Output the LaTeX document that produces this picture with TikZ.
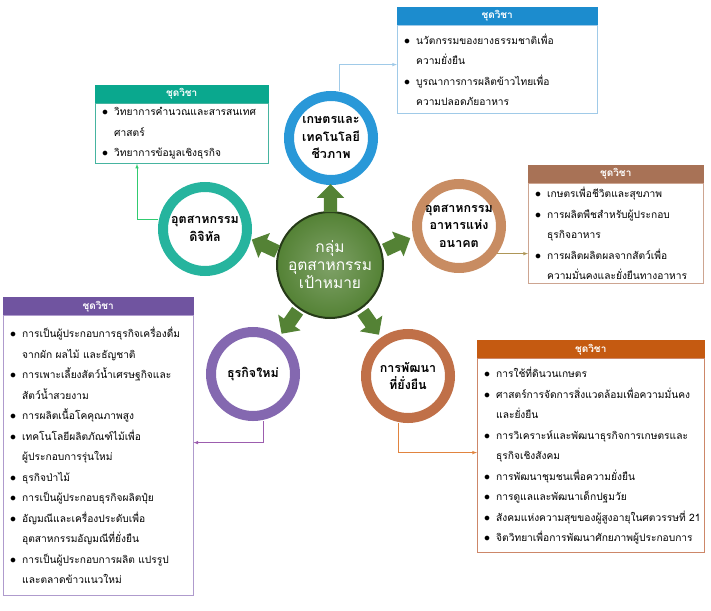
\documentclass[tikz,border=0pt]{standalone}
\usepackage{fontspec}
\usepackage{tikz}
\usetikzlibrary{shapes,arrows,positioning,calc}
\newfontfamily\thaifont[Script=Thai]{Loma}
\definecolor{bioblue}{RGB}{41,152,216}
\definecolor{biohead}{RGB}{28,140,206}
\definecolor{bioline}{RGB}{160,202,232}
\definecolor{digiteal}{RGB}{38,180,158}
\definecolor{digihead}{RGB}{10,168,142}
\definecolor{digiline}{RGB}{70,180,160}
\definecolor{foodtan}{RGB}{200,140,98}
\definecolor{foodhead}{RGB}{168,114,86}
\definecolor{foodline}{RGB}{205,165,145}
\definecolor{newpurple}{RGB}{132,104,176}
\definecolor{newhead}{RGB}{112,84,160}
\definecolor{purpline}{RGB}{175,155,205}
\definecolor{susrust}{RGB}{192,112,72}
\definecolor{sushead}{RGB}{197,90,17}
\definecolor{susline}{RGB}{205,135,105}
\definecolor{hubgreen}{RGB}{84,130,53}
\newcommand{\itm}[1]{\hangindent=12pt\hangafter=1\noindent\hbox to 12pt{\fontsize{13}{13}\selectfont$\bullet$\hss}#1\par}

\begin{document}
\begin{tikzpicture}[x=1pt, y=-1pt, >=latex,
    ring/.style={circle, draw=#1, line width=10pt, fill=white, minimum size=84pt, inner sep=0pt, align=center, font=\thaifont\bfseries\fontsize{12.5}{17.5}\selectfont},
    head/.style={fill=#1, draw=#1, text=white, minimum height=18pt, inner sep=0pt, anchor=north west, font=\thaifont\bfseries\fontsize{10}{12}\selectfont},
    course/.style={draw=#1, fill=white, anchor=north west, align=left, inner xsep=7pt, inner ysep=2pt, font=\thaifont\fontsize{10.2}{20.5}\selectfont},
    block/.style={single arrow, fill=hubgreen, draw=none, minimum height=28pt, inner xsep=4pt, inner ysep=6.5pt, single arrow head extend=7pt, single arrow head indent=0pt},
    link/.style={->, draw=#1, line width=0.6pt}]
    \useasboundingbox (0,0) rectangle (711,610);

    % centre and the five groups
    \node[circle, minimum size=92pt, inner color=hubgreen!75!white, outer color=hubgreen, draw=hubgreen!45!black, line width=2pt, text=white, align=center, font=\thaifont\fontsize{15.5}{18}\selectfont] (hub) at (330,265) {กลุ่ม\\อุตสาหกรรม\\เป้าหมาย};
    \node[ring=bioblue] (bio) at (331,138) {เกษตรและ\\เทคโนโลยี\\ชีวภาพ};
    \node[ring=digiteal] (digi) at (205,229) {อุตสาหกรรม\\ดิจิทัล};
    \node[ring=foodtan] (food) at (459,226) {อุตสาหกรรม\\อาหารแห่ง\\อนาคต};
    \node[ring=newpurple] (newb) at (253,374) {ธุรกิจใหม่};
    \node[ring=susrust] (sus) at (408,376) {การพัฒนา\\ที่ยั่งยืน};

    \node[block, rotate=90] (tobio) at ($(hub)!.5!(bio)$) {};
    \node[block, rotate=155] (todigi) at ($(hub)!.5!(digi)$) {};
    \node[block, rotate=25] (tofood) at ($(hub)!.5!(food)$) {};
    \node[block, rotate=235] (tonew) at ($(hub)!.5!(newb)$) {};
    \node[block, rotate=305] (tosus) at ($(hub)!.5!(sus)$) {};

    % course boxes
    \node[head=biohead, minimum width=200pt] (hbio) at (397,7) {ชุดวิชา};
    \node[course=bioline, text width=186pt, minimum height=88pt] (cbio) at (hbio.south west) {\itm{นวัตกรรมของยางธรรมชาติเพื่อ\newline ความยั่งยืน}\itm{บูรณาการการผลิตข้าวไทยเพื่อ\newline ความปลอดภัยอาหาร}};

    \node[head=digihead, minimum width=173pt] (hdigi) at (95,85) {ชุดวิชา};
    \node[course=digiline, text width=159pt, minimum height=60pt] (cdigi) at (hdigi.south west) {\itm{วิทยาการคำนวณและสารสนเทศ\newline ศาสตร์}\itm{วิทยาการข้อมูลเชิงธุรกิจ}};

    \node[head=foodhead, minimum width=175pt] (hfood) at (528,165) {ชุดวิชา};
    \node[course=foodline, text width=161pt, minimum height=100pt] (cfood) at (hfood.south west) {\itm{เกษตรเพื่อชีวิตและสุขภาพ}\itm{การผลิตพืชสำหรับผู้ประกอบ\newline ธุรกิจอาหาร}\itm{การผลิตผลิตผลจากสัตว์เพื่อ\newline ความมั่นคงและยั่งยืนทางอาหาร}};

    \node[head=newhead, minimum width=190pt] (hnew) at (3,297) {ชุดวิชา};
    \node[course=purpline, text width=176pt, minimum height=280pt] (cnew) at (hnew.south west) {\itm{การเป็นผู้ประกอบการธุรกิจเครื่องดื่ม\newline จากผัก~ผลไม้~และธัญชาติ}\itm{การเพาะเลี้ยงสัตว์น้ำเศรษฐกิจและ\newline สัตว์น้ำสวยงาม}\itm{การผลิตเนื้อโคคุณภาพสูง}\itm{เทคโนโลยีผลิตภัณฑ์ไม้เพื่อ\newline ผู้ประกอบการรุ่นใหม่}\itm{ธุรกิจป่าไม้}\itm{การเป็นผู้ประกอบธุรกิจผลิตปุ๋ย}\itm{อัญมณีและเครื่องประดับเพื่อ\newline อุตสาหกรรมอัญมณีที่ยั่งยืน}\itm{การเป็นผู้ประกอบการผลิต~แปรรูป\newline และตลาดข้าวแนวใหม่}};

    \node[head=sushead, minimum width=227pt] (hsus) at (477,340) {ชุดวิชา};
    \node[course=susline, text width=213pt, minimum height=194pt] (csus) at (hsus.south west) {\itm{การใช้ที่ดินวนเกษตร}\itm{ศาสตร์การจัดการสิ่งแวดล้อมเพื่อความมั่นคง\newline และยั่งยืน}\itm{การวิเคราะห์และพัฒนาธุรกิจการเกษตรและ\newline ธุรกิจเชิงสังคม}\itm{การพัฒนาชุมชนเพื่อความยั่งยืน}\itm{การดูแลและพัฒนาเด็กปฐมวัย}\itm{สังคมแห่งความสุขของผู้สูงอายุในศตวรรษที่~21}\itm{จิตวิทยาเพื่อการพัฒนาศักยภาพผู้ประกอบการ}};

    % links
    \draw[link=bioline] ([xshift=8pt]bio.north) |- ([yshift=5pt]cbio.west);
    \draw[link=digiline!70!green] ([yshift=10pt]digi.west) -| ([xshift=42pt]cdigi.south west);
    \draw[link=foodline!60!olive] (food.-36) -- (food.-36 -| cfood.west);
    \draw[link=purpline!60!violet] ([xshift=10pt]newb.south) |- ([yshift=13pt]cnew.east);
    \draw[link=susline!60!orange] ([xshift=-10pt]sus.south) |- ([yshift=3pt]csus.west);
\end{tikzpicture}
\end{document}
